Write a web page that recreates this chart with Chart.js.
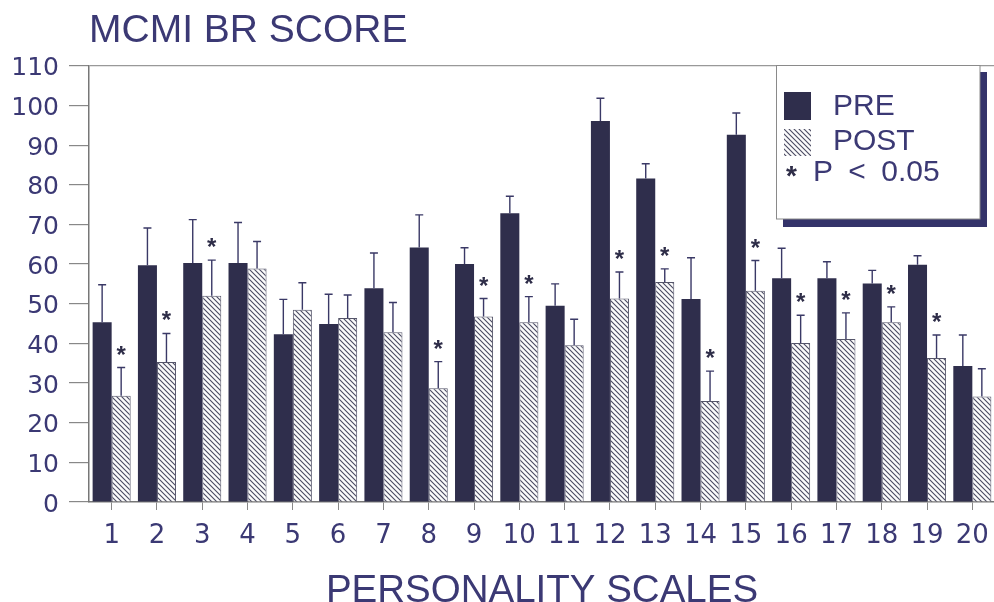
<!DOCTYPE html>
<html><head><meta charset="utf-8">
<script src="https://cdn.jsdelivr.net/npm/chart.js@4.4.1/dist/chart.umd.min.js"></script>
<style>html,body{margin:0;padding:0;background:#fff;overflow:hidden;width:994px;height:602px}canvas{display:block}</style>
</head><body><canvas id="c" width="1000" height="602" style="width:1000px;height:602px"></canvas>
<script>
const categories = ['1','2','3','4','5','6','7','8','9','10','11','12','13','14','15','16','17','18','19','20'];
const preMeans  = [45.3, 59.7, 60.3, 60.3, 42.3, 44.9, 53.9, 64.2, 60.0, 72.8, 49.5, 96.1, 81.6, 51.2, 92.6, 56.4, 56.4, 55.1, 59.8, 34.3];
const preErr    = [9.5, 9.4, 10.9, 10.2, 8.8, 7.5, 8.9, 8.2, 4.1, 4.3, 5.5, 5.7, 3.7, 10.4, 5.5, 7.6, 4.2, 3.3, 2.3, 7.8];
const postMeans = [26.8, 35.3, 52.0, 58.9, 48.5, 46.4, 42.8, 28.7, 46.8, 45.3, 39.5, 51.3, 55.5, 25.5, 53.3, 40.1, 41.1, 45.3, 36.3, 26.6];
const postErr   = [7.1, 7.2, 9.0, 6.8, 6.8, 5.8, 7.5, 6.7, 4.5, 6.5, 6.6, 6.7, 3.3, 7.5, 7.6, 7.0, 6.6, 3.9, 5.8, 7.0];
const significant = [1,1,1,0,0,0,0,1,1,1,0,1,1,1,1,1,1,1,1,0];
const seriesLabels = ['PRE', 'POST'];
const titleText = 'MCMI BR SCORE';
const xAxisTitle = 'PERSONALITY SCALES';
const noteMark = '*';
const noteText = 'P < 0.05';

const FONT = "'Liberation Sans', Arial, sans-serif";
const NUMFONT = "'DejaVu Sans', sans-serif";
const TEXT = '#3b3974';
const PRE_COLOR = '#2f2e4c';
const ERR_COLOR = '#3a3966';

const ctx = document.getElementById('c').getContext('2d');
function hatch() {
  const s = 5, p = document.createElement('canvas');
  p.width = s; p.height = s;
  const g = p.getContext('2d');
  g.fillStyle = '#fbfbfb'; g.fillRect(0, 0, s, s);
  g.strokeStyle = '#4a4a62'; g.lineWidth = 1.1;
  g.beginPath();
  g.moveTo(-1, -1); g.lineTo(s + 1, s + 1);
  g.moveTo(-1, s - 1); g.lineTo(1, s + 1);
  g.moveTo(s - 1, -1); g.lineTo(s + 1, 1);
  g.stroke();
  return ctx.createPattern(p, 'repeat');
}
const POST_FILL = hatch();

const overlay = {
  id: 'overlay',
  afterDatasetsDraw(chart) {
    const c = chart.ctx, y = chart.scales.y;
    chart.data.datasets.forEach((ds, di) => {
      const meta = chart.getDatasetMeta(di);
      meta.data.forEach((bar, i) => {
        const top = y.getPixelForValue(ds.data[i] + ds.errors[i]);
        c.save();
        c.strokeStyle = ERR_COLOR; c.lineWidth = 1.4;
        c.beginPath();
        c.moveTo(bar.x, bar.y); c.lineTo(bar.x, top);
        c.moveTo(bar.x - 4, top); c.lineTo(bar.x + 4, top);
        c.stroke();
        if (di === 1 && significant[i]) {
          c.fillStyle = '#2e2d48';
          c.font = 'bold 24px ' + FONT;
          c.textAlign = 'center'; c.textBaseline = 'alphabetic';
          c.fillText(noteMark, bar.x, top - 5);
        }
        c.restore();
      });
    });
  },
  afterDraw(chart) {
    const c = chart.ctx;
    c.save();
    c.fillStyle = '#34336a';
    c.fillRect(980, 72, 7, 155);
    c.fillRect(783, 219, 204, 8);
    c.fillStyle = '#ffffff';
    c.fillRect(776, 65, 204, 154);
    c.strokeStyle = '#8a8a8a'; c.lineWidth = 1;
    c.strokeRect(776.5, 65.5, 203.5, 153.5);
    c.fillStyle = chart.data.datasets[0].backgroundColor;
    c.fillRect(784, 92, 27, 28);
    c.fillStyle = chart.data.datasets[1].backgroundColor;
    c.fillRect(784, 129, 27, 27);
    c.fillStyle = TEXT;
    c.font = '30px ' + FONT;
    c.textAlign = 'left'; c.textBaseline = 'alphabetic';
    c.fillText(chart.data.datasets[0].label, 833, 115);
    c.fillText(chart.data.datasets[1].label, 833, 150);
    c.wordSpacing = '7px';
    c.fillText(noteText, 813, 181);
    c.wordSpacing = '0px';
    c.font = 'bold 28px ' + FONT;
    c.fillStyle = '#2e2d48';
    c.fillText(noteMark, 786, 185);
    c.restore();
  }
};

new Chart(ctx, {
  type: 'bar',
  data: {
    labels: categories,
    datasets: [
      { label: seriesLabels[0], data: preMeans, errors: preErr, backgroundColor: PRE_COLOR, borderWidth: 0,
        categoryPercentage: 0.84, barPercentage: 1.0 },
      { label: seriesLabels[1], data: postMeans, errors: postErr, backgroundColor: POST_FILL, borderColor: '#55556a', borderWidth: 1,
        categoryPercentage: 0.84, barPercentage: 1.0 }
    ]
  },
  options: {
    responsive: false, devicePixelRatio: 1, animation: false,
    layout: { padding: { top: 2.4, right: 4, left: 0, bottom: 0 } },
    plugins: {
      legend: { display: false }, tooltip: { enabled: false },
      title: { display: true, text: titleText, align: 'start', fullSize: false, color: TEXT,
        font: { family: FONT, size: 39, weight: 'normal', lineHeight: 1.2 }, padding: { top: 5, bottom: 11.6 } }
    },
    scales: {
      x: {
        offset: true,
        grid: { drawOnChartArea: false, drawTicks: true, tickLength: 8, color: '#888', offset: false },
        border: { color: '#777', width: 1.5 },
        ticks: { color: TEXT, font: { family: NUMFONT, size: 26 }, padding: 11, maxRotation: 0, autoSkip: false },
        title: { display: true, text: xAxisTitle, color: TEXT, font: { family: FONT, size: 38.5, lineHeight: 0.55 }, padding: { top: 10, bottom: 0 } },
        afterFit(s) { s.height = 100; }
      },
      y: {
        min: 0, max: 110,
        ticks: { stepSize: 10, color: TEXT, font: { family: NUMFONT, size: 25 }, padding: 10, labelOffset: 3 },
        grid: { drawOnChartArea: true, color: (c) => (c.tick && c.tick.value === 110 ? '#999' : 'rgba(0,0,0,0)'),
          tickColor: '#888', tickLength: 20, lineWidth: 1.2 },
        border: { color: '#777', width: 1.5 },
        afterFit(s) { s.width = 89; }
      }
    }
  },
  plugins: [overlay]
});
</script>
</body></html>
